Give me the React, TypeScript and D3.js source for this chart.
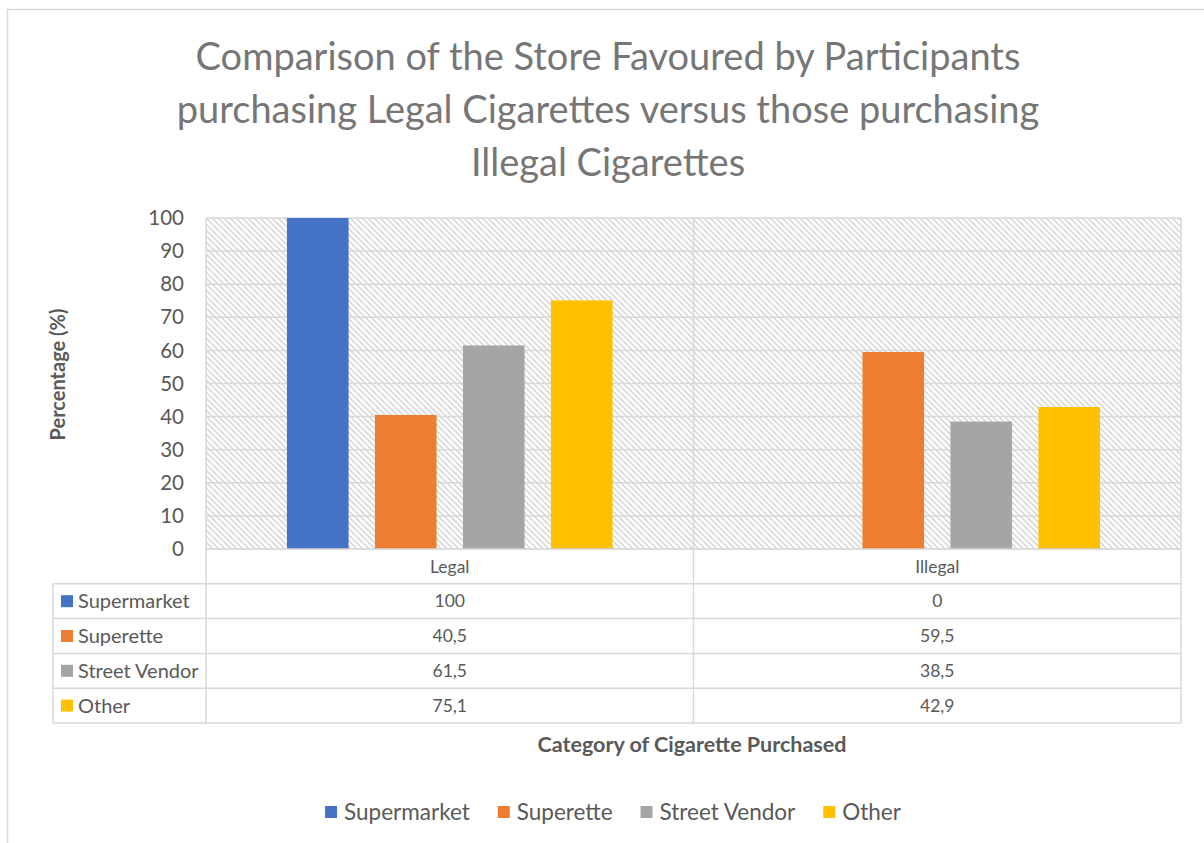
import React, { useEffect, useRef } from "react";
import * as d3 from "d3";

const categories = ["Legal", "Illegal"];
const seriesNames = ["Supermarket", "Superette", "Street Vendor", "Other"];
const seriesColors = ["#4472C4", "#ED7D31", "#A5A5A5", "#FFC000"];
const supermarket = [100, 0];
const superette = [40.5, 59.5];
const streetVendor = [61.5, 38.5];
const other = [75.1, 42.9];
const tableLabels = [["100", "0"], ["40,5", "59,5"], ["61,5", "38,5"], ["75,1", "42,9"]];
const yTicks = [0, 10, 20, 30, 40, 50, 60, 70, 80, 90, 100];
const titleLines = [
  "Comparison of the Store Favoured by Participants",
  "purchasing Legal Cigarettes versus those purchasing",
  "Illegal Cigarettes",
];

const W = 1204;
const H = 843;
const FONT = "Lato, 'Open Sans', sans-serif";
const TXT = "#595959";
const GRID = "#d9d9d9";

export default function App() {
  const ref = useRef<SVGSVGElement>(null);

  useEffect(() => {
    const svg = d3.select(ref.current);
    svg.selectAll("*").remove();
    const series = [supermarket, superette, streetVendor, other];

    const left = 206, right = 1181, top = 218, bottom = 549;
    const x0 = d3.scaleBand<string>().domain(categories).range([left, right]).paddingInner(0).paddingOuter(0);
    const x1 = d3.scaleBand<string>().domain(seriesNames).range([0, x0.bandwidth()]).paddingInner(0.3).paddingOuter(0.92);
    const y = d3.scaleLinear().domain([0, 100]).range([bottom, top]);

    // chart border
    svg.append("rect").attr("x", 7.5).attr("y", 9.5).attr("width", W).attr("height", H)
      .attr("fill", "white").attr("stroke", GRID).attr("stroke-width", 1.5);

    // pattern
    const defs = svg.append("defs");
    const pat = defs.append("pattern").attr("id", "hatch").attr("patternUnits", "userSpaceOnUse")
      .attr("width", 6).attr("height", 6);
    pat.append("rect").attr("width", 6).attr("height", 6).attr("fill", "white");
    pat.append("path").attr("d", "M-1,-1 L7,7 M-1,5 L1,7 M5,-1 L7,1")
      .attr("stroke", "#d9d9d9").attr("stroke-width", 1.6);

    svg.append("rect").attr("x", left).attr("y", top).attr("width", right - left).attr("height", bottom - top)
      .attr("fill", "url(#hatch)");

    // title
    const title = svg.append("text").attr("text-anchor", "middle").attr("fill", "#767676")
      .attr("font-family", FONT).attr("font-size", 38);
    titleLines.forEach((t, i) => {
      title.append("tspan").attr("x", 608).attr("y", 70 + i * 53).text(t);
    });

    // gridlines
    svg.append("g").selectAll("line").data(yTicks).join("line")
      .attr("x1", left).attr("x2", right).attr("y1", (d) => y(d)).attr("y2", (d) => y(d))
      .attr("stroke", GRID).attr("stroke-width", 1.5);

    // y tick labels
    svg.append("g").selectAll("text").data(yTicks).join("text")
      .attr("x", 184).attr("y", (d) => y(d)).attr("dy", "0.35em").attr("text-anchor", "end")
      .attr("fill", TXT).attr("font-family", FONT).attr("font-size", 20.5).text((d) => d);

    // bars
    const gBars = svg.append("g");
    categories.forEach((c, ci) => {
      series.forEach((s, si) => {
        const v = s[ci];
        if (v <= 0) return;
        gBars.append("rect")
          .attr("x", (x0(c) as number) + (x1(seriesNames[si]) as number))
          .attr("y", y(v)).attr("width", x1.bandwidth()).attr("height", y(0) - y(v))
          .attr("fill", seriesColors[si]);
      });
    });

    // data table
    const rowH = 34.8;
    const tableLeft = 53;
    const rowsY = d3.range(6).map((i) => bottom + i * rowH);
    const gT = svg.append("g").attr("stroke", GRID).attr("stroke-width", 1.5);
    rowsY.forEach((ry, i) => {
      gT.append("line").attr("x1", i === 0 ? left : tableLeft).attr("x2", right).attr("y1", ry).attr("y2", ry);
    });
    gT.append("line").attr("x1", tableLeft).attr("x2", tableLeft).attr("y1", rowsY[1]).attr("y2", rowsY[5]);
    [left, x0("Illegal") as number, right].forEach((xx) => {
      gT.append("line").attr("x1", xx).attr("x2", xx).attr("y1", top).attr("y2", rowsY[5]);
    });

    categories.forEach((c, ci) => {
      const cx = (x0(c) as number) + x0.bandwidth() / 2;
      svg.append("text").attr("x", cx).attr("y", rowsY[0] + rowH / 2).attr("dy", "0.35em")
        .attr("text-anchor", "middle").attr("fill", TXT).attr("font-family", FONT).attr("font-size", 17.5).text(c);
      seriesNames.forEach((_, si) => {
        svg.append("text").attr("x", cx).attr("y", rowsY[si + 1] + rowH / 2).attr("dy", "0.35em")
          .attr("text-anchor", "middle").attr("fill", TXT).attr("font-family", FONT).attr("font-size", 17.5)
          .text(tableLabels[si][ci]);
      });
    });
    seriesNames.forEach((n, si) => {
      const cy = rowsY[si + 1] + rowH / 2;
      svg.append("rect").attr("x", 61).attr("y", cy - 6).attr("width", 12).attr("height", 12).attr("fill", seriesColors[si]);
      svg.append("text").attr("x", 78).attr("y", cy).attr("dy", "0.35em").attr("fill", TXT)
        .attr("font-family", FONT).attr("font-size", 20).text(n);
    });

    // axis titles
    svg.append("text").attr("transform", `translate(65,${(top + bottom) / 2 - 9}) rotate(-90)`)
      .attr("text-anchor", "middle").attr("fill", TXT).attr("font-family", FONT).attr("font-size", 20)
      .attr("font-weight", "bold").text("Percentage (%)");
    svg.append("text").attr("x", 692).attr("y", 744).attr("dy", "0.35em").attr("text-anchor", "middle")
      .attr("fill", TXT).attr("font-family", FONT).attr("font-size", 21.5).attr("font-weight", "bold")
      .text("Category of Cigarette Purchased");

    // legend
    const lg = svg.append("g");
    let cursor = 0;
    const items: { g: any; w: number }[] = [];
    seriesNames.forEach((n, si) => {
      const g = lg.append("g");
      g.append("rect").attr("x", 0).attr("y", -6).attr("width", 12).attr("height", 12).attr("fill", seriesColors[si]);
      const t = g.append("text").attr("x", 19).attr("dy", "0.35em").attr("fill", TXT)
        .attr("font-family", FONT).attr("font-size", 22.5).text(n);
      const w = 19 + (t.node() as SVGTextElement).getComputedTextLength();
      items.push({ g, w });
    });
    const gap = 28;
    const total = d3.sum(items, (d) => d.w) + gap * (items.length - 1);
    cursor = 613 - total / 2;
    items.forEach((it) => {
      it.g.attr("transform", `translate(${cursor},812)`);
      cursor += it.w + gap;
    });
  }, []);

  return (
    <svg ref={ref} width={W} height={H}
      style={{ position: "absolute", left: 0, top: 0, display: "block", background: "white" }} />
  );
}
